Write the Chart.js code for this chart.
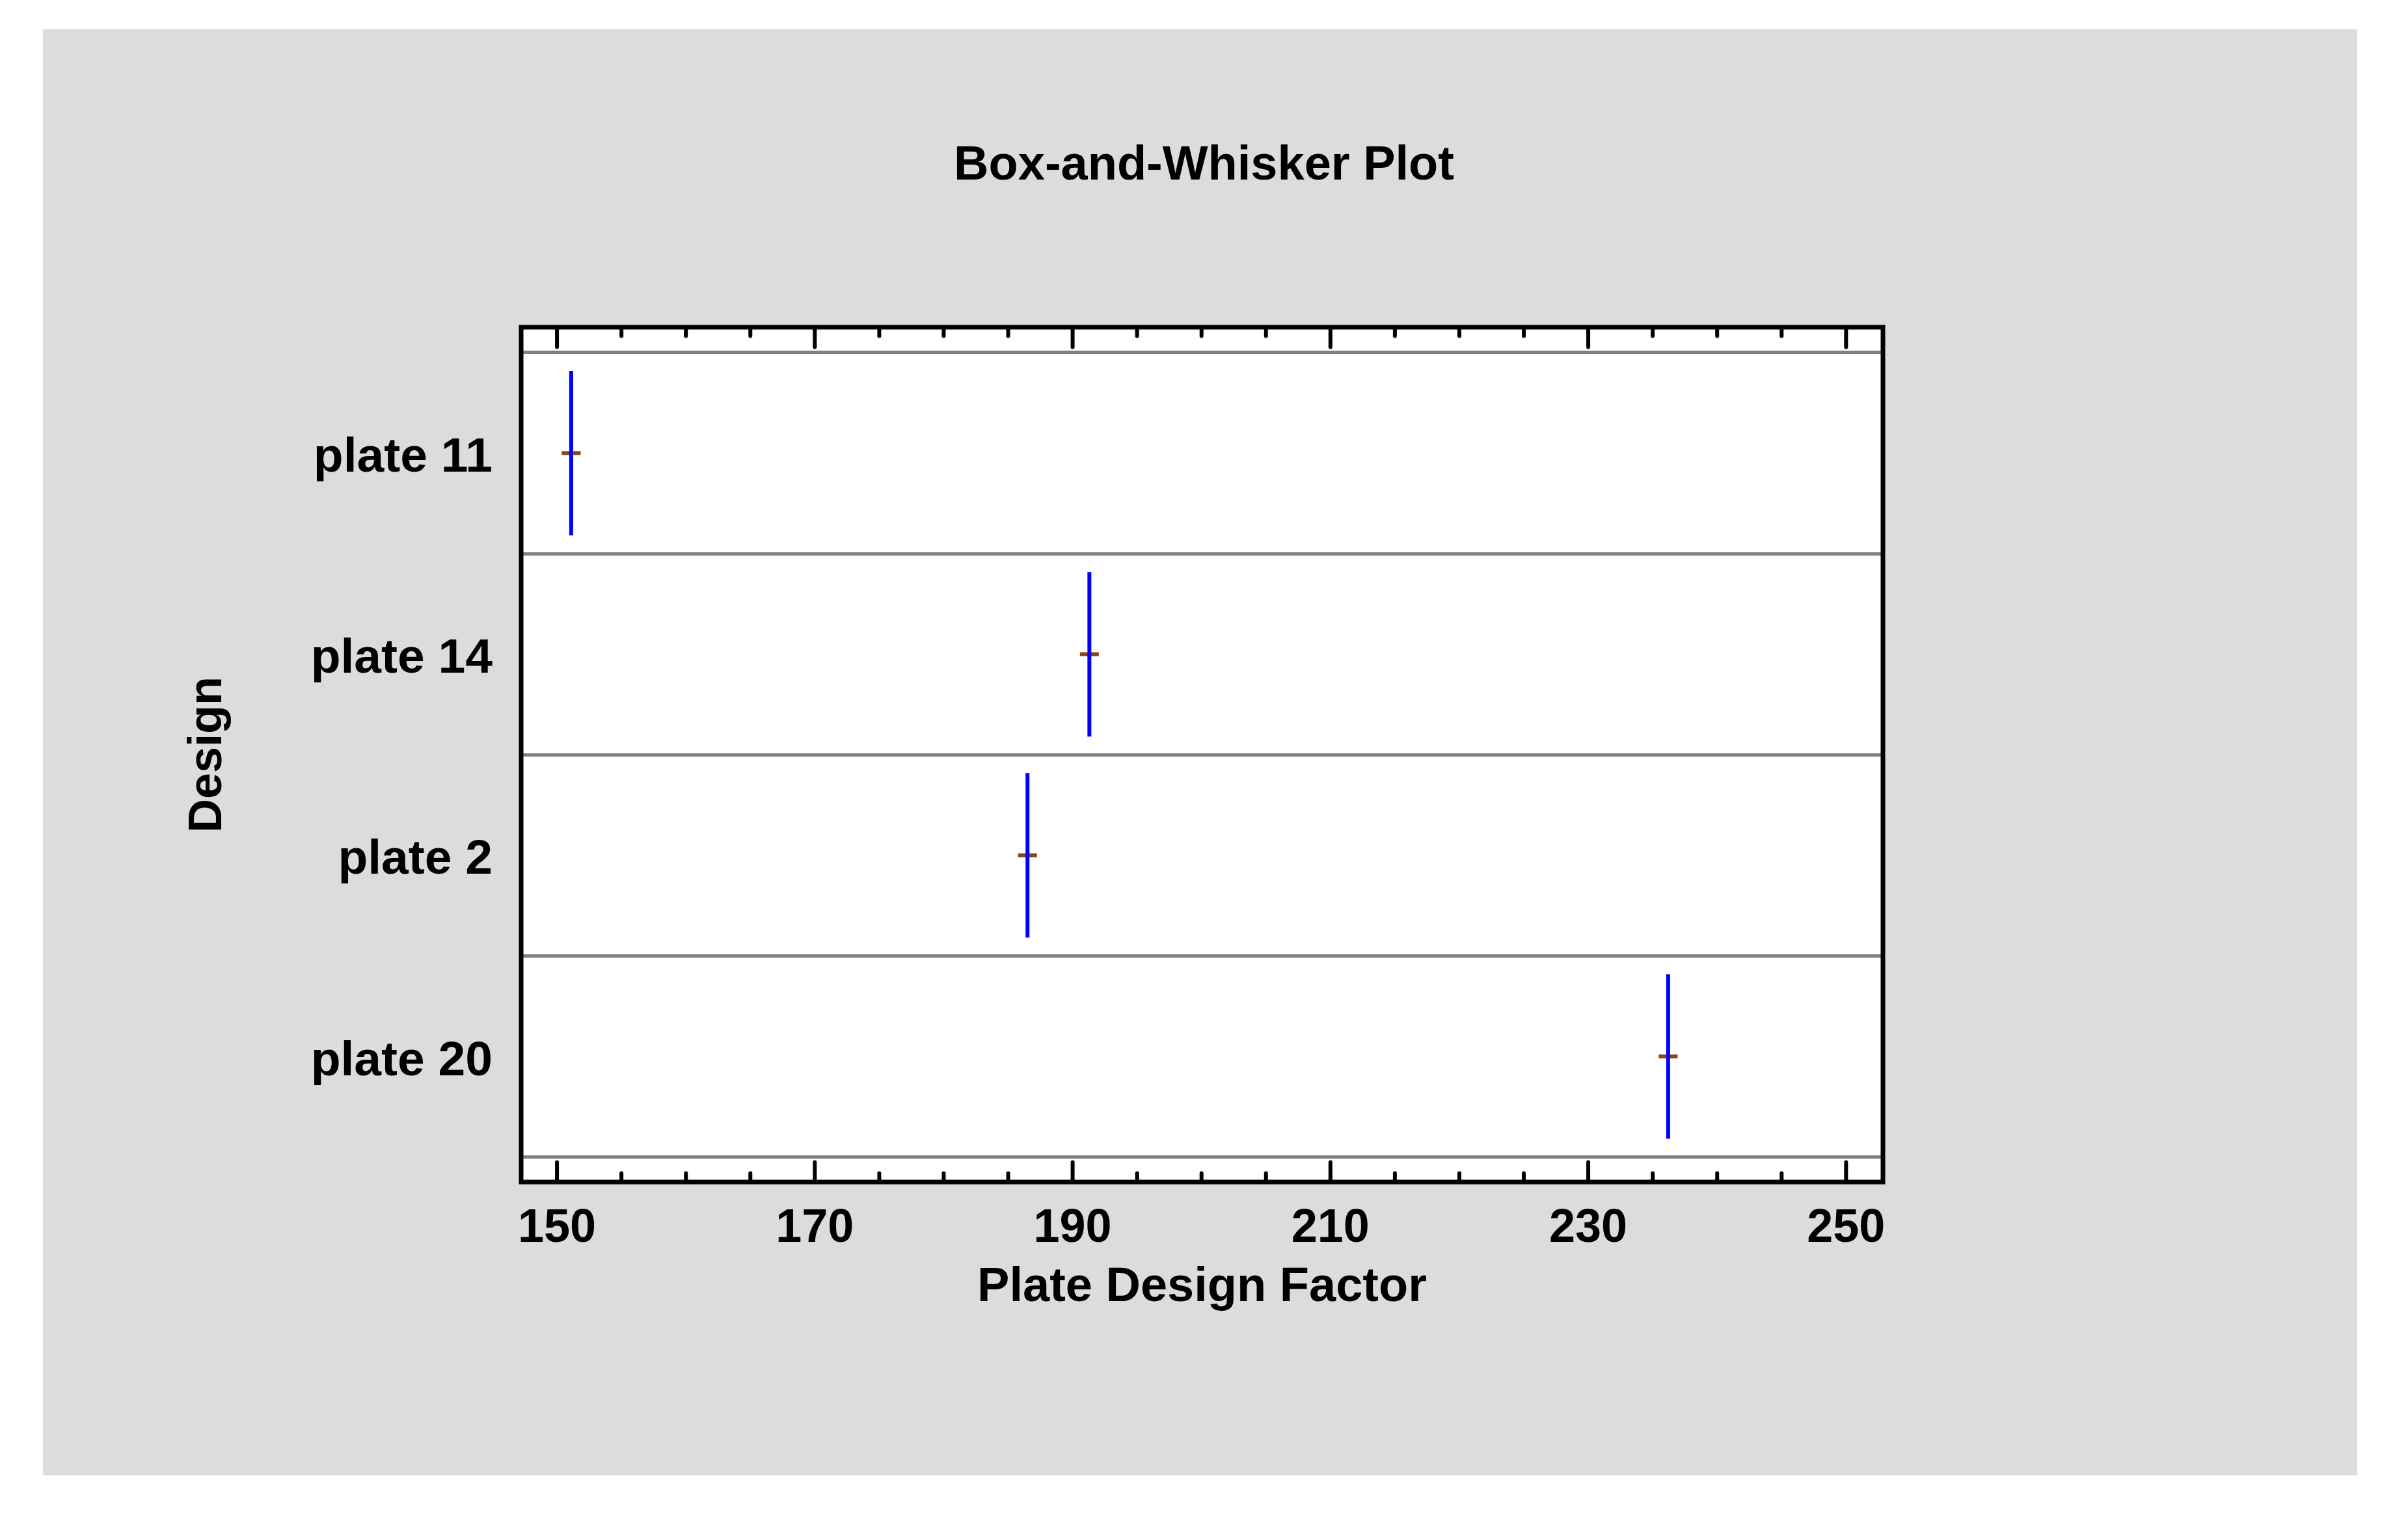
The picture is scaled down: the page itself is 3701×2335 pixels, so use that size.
<!DOCTYPE html>
<html>
<head>
<meta charset="utf-8">
<script src="https://cdn.jsdelivr.net/npm/chart.js@4/dist/chart.umd.min.js"></script>
<style>
  html, body { margin: 0; padding: 0; background: #ffffff; overflow: hidden; }
  canvas { display: block; }
</style>
</head>
<body>
<canvas id="c" width="3701" height="2335"></canvas>
<script>
// ---- data ----
const categories = ['plate 11', 'plate 14', 'plate 2', 'plate 20'];
const medians = [151.1, 191.3, 186.5, 236.2];
const means = [151.1, 191.3, 186.5, 236.2];
const xTickValues = [150, 170, 190, 210, 230, 250];
const minorStep = 5;

const chartTitle = 'Box-and-Whisker Plot';
const xTitle = 'Plate Design Factor';
const yTitle = 'Design';

const FONT = "'Liberation Sans', Arial, Helvetica, sans-serif";

const boxData = categories.map((c, i) => ({ x: medians[i], y: i }));
const meanData = categories.map((c, i) => ({ x: means[i], y: i }));

const backgroundPlugin = {
  id: 'bg',
  beforeDraw(chart) {
    const ctx = chart.ctx;
    const a = chart.chartArea;
    ctx.save();
    ctx.fillStyle = '#ffffff';
    ctx.fillRect(0, 0, chart.width, chart.height);
    ctx.fillStyle = '#dcdcdc';
    ctx.fillRect(66, 45, 3557, 2223);
    ctx.fillStyle = '#ffffff';
    ctx.fillRect(a.left, a.top, a.right - a.left, a.bottom - a.top);
    ctx.restore();
  }
};

const framePlugin = {
  id: 'frame',
  afterDraw(chart) {
    const ctx = chart.ctx;
    const a = chart.chartArea;
    const xs = chart.scales.x;
    ctx.save();
    ctx.strokeStyle = '#000000';
    ctx.lineWidth = 6;
    ctx.lineCap = 'round';
    const start = xTickValues[0] - Math.floor((xTickValues[0] - xs.min) / minorStep) * minorStep;
    for (let v = start; v <= xs.max + 1e-9; v += minorStep) {
      const isMajor = xTickValues.some(t => Math.abs(t - v) < 1e-6);
      const len = isMajor ? 27 : 10;
      const px = xs.getPixelForValue(v);
      ctx.beginPath();
      ctx.moveTo(px, a.top + 3.5);
      ctx.lineTo(px, a.top + 3.5 + len);
      ctx.moveTo(px, a.bottom - 3.5);
      ctx.lineTo(px, a.bottom - 3.5 - len);
      ctx.stroke();
    }
    ctx.lineCap = 'butt';
    ctx.lineWidth = 7;
    ctx.strokeRect(a.left, a.top, a.right - a.left, a.bottom - a.top);
    ctx.restore();
  }
};

new Chart(document.getElementById('c'), {
  type: 'scatter',
  data: {
    datasets: [
      {
        label: 'box',
        data: boxData,
        pointStyle: 'line',
        pointRotation: 90,
        pointRadius: 126.5,
        pointHoverRadius: 126.5,
        pointBorderWidth: 6,
        pointBorderColor: '#0000ff',
        pointBackgroundColor: '#0000ff',
        showLine: false
      },
      {
        label: 'mean',
        data: meanData,
        pointStyle: 'line',
        pointRotation: 0,
        pointRadius: 14.5,
        pointHoverRadius: 14.5,
        pointBorderWidth: 6,
        pointBorderColor: '#8b4513',
        pointBackgroundColor: '#8b4513',
        showLine: false
      }
    ]
  },
  options: {
    responsive: false,
    devicePixelRatio: 1,
    animation: false,
    events: [],
    layout: { padding: { left: 0, right: 0, top: 0, bottom: 311 } },
    plugins: {
      legend: { display: false },
      tooltip: { enabled: false },
      title: {
        display: true,
        text: chartTitle,
        color: '#000000',
        font: { family: FONT, size: 74, weight: 'bold' },
        padding: { top: 211, bottom: 203.2 }
      }
    },
    scales: {
      x: {
        type: 'linear',
        position: 'bottom',
        min: 147.22,
        max: 252.86,
        afterBuildTicks(s) { s.ticks = xTickValues.map(v => ({ value: v })); },
        afterFit(s) { s.height = 207; },
        grid: { display: false },
        border: { display: false },
        ticks: {
          color: '#000000',
          font: { family: FONT, size: 72, weight: 'bold' },
          padding: 21,
          maxRotation: 0,
          autoSkip: false
        },
        title: {
          display: true,
          text: xTitle,
          color: '#000000',
          font: { family: FONT, size: 74, weight: 'bold' },
          padding: { top: 0, bottom: 0 }
        }
      },
      y: {
        type: 'linear',
        position: 'left',
        reverse: true,
        min: -0.626,
        max: 3.6246,
        afterBuildTicks(s) { s.ticks = categories.map((c, i) => ({ value: i })); },
        afterFit(s) { s.width = 801; },
        grid: {
          display: true,
          offset: true,
          color: '#808080',
          lineWidth: 5,
          drawTicks: false
        },
        border: { display: false },
        ticks: {
          color: '#000000',
          font: { family: FONT, size: 75, weight: 'bold' },
          padding: 44,
          labelOffset: 8,
          autoSkip: false,
          callback: (v) => categories[Math.round(v)]
        },
        title: {
          display: true,
          text: yTitle,
          color: '#000000',
          font: { family: FONT, size: 72, weight: 'bold' },
          padding: { top: 277, bottom: 0 }
        }
      },
      y2: {
        type: 'linear',
        position: 'right',
        display: true,
        afterFit(s) { s.width = 807; },
        grid: { display: false },
        border: { display: false },
        ticks: { display: false },
        title: { display: false }
      }
    }
  },
  plugins: [backgroundPlugin, framePlugin]
});
</script>
</body>
</html>
